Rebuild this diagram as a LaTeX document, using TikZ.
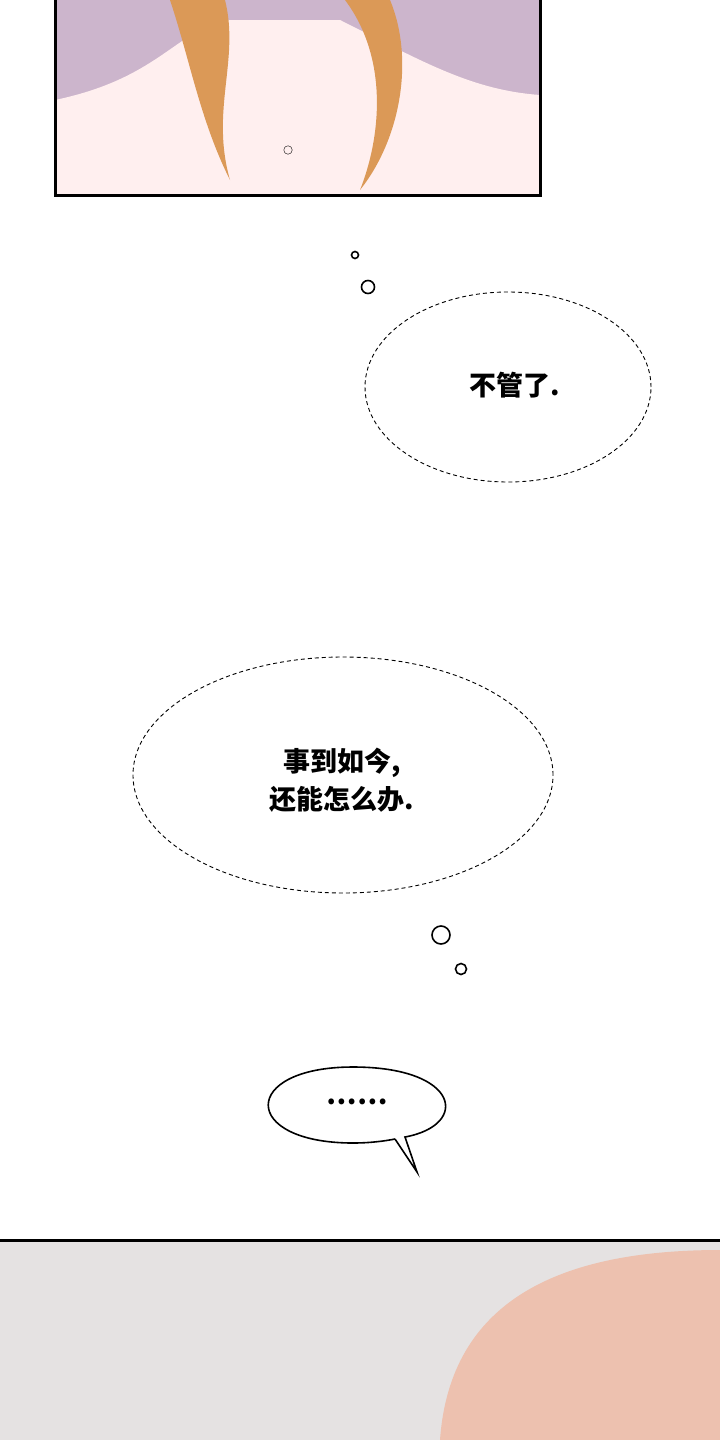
\documentclass[tikz,border=0pt]{standalone}
\usepackage{fontspec}
\newfontfamily\cjk{Noto Sans CJK SC}
\usetikzlibrary{shapes.geometric}
\tikzset{thought/.style={ellipse,draw,dashed,line width=0.9pt,dash pattern=on 4pt off 3pt},
  puff/.style={circle,draw,line width=1.6pt,inner sep=0pt},
  words/.style={font=\cjk\bfseries\fontsize{27}{38}\selectfont,align=center}}
\begin{document}
\begin{tikzpicture}[x=1pt,y=-1pt]
            \useasboundingbox (0,0) rectangle (720,1440);
            \fill[white] (0,0) rectangle (720,1440);
            % top panel
            \fill[gray!55!violet!40] (55,0) rectangle (540,195);
            \fill[pink!25] (55,100) .. controls (150,80) and (170,40) .. (220,20) -- (340,20) .. controls (420,60) and (470,90) .. (540,95) -- (540,195) -- (55,195) -- cycle;
            \fill[brown!70!orange!80] (170,0) .. controls (190,60) and (200,120) .. (230,180) .. controls (210,110) and (240,60) .. (225,0) -- cycle;
            \fill[brown!70!orange!80] (345,0) .. controls (390,60) and (380,140) .. (360,190) .. controls (400,140) and (415,60) .. (390,0) -- cycle;
            \draw[line width=3pt] (55,0) -- (55,195) -- (540,195) -- (540,0);
            \node[circle,draw,inner sep=3pt] (button) at (288,150) {};
            % thought bubbles
            \node[thought,minimum width=286pt,minimum height=190pt] (b1) at (508,387) {};
            \node[words] (t1) at (515,385) {不管了.};
            \node[puff,minimum size=7pt] (p1) at (355,255) {};
            \node[puff,minimum size=13pt] (p2) at (368,287) {};
            \node[thought,minimum width=420pt,minimum height=236pt] (b2) at (343,775) {};
            \node[words] (t2) at (342,780) {事到如今,\\还能怎么办.};
            \node[puff,minimum size=18pt] (p3) at (441,935) {};
            \node[puff,minimum size=11pt] (p4) at (461,969) {};
            % speech bubble
            \draw[line width=1.6pt,fill=white] (395,1139) -- (417,1172) -- (405,1137)
              .. controls (470,1125) and (460,1067) .. (353,1067)
              .. controls (240,1067) and (240,1143) .. (353,1143) .. controls (370,1143) and (385,1141) .. (395,1139);
            \node[words] (t3) at (357,1102) {……};
            % bottom panel
            \fill[pink!20!gray!25] (0,1240) rectangle (720,1440);
            \fill[brown!40!pink!70] (440,1440) .. controls (450,1300) and (560,1250) .. (720,1250) -- (720,1440) -- cycle;
            \draw[line width=3pt] (0,1240) -- (720,1240);
\end{tikzpicture}
\end{document}
